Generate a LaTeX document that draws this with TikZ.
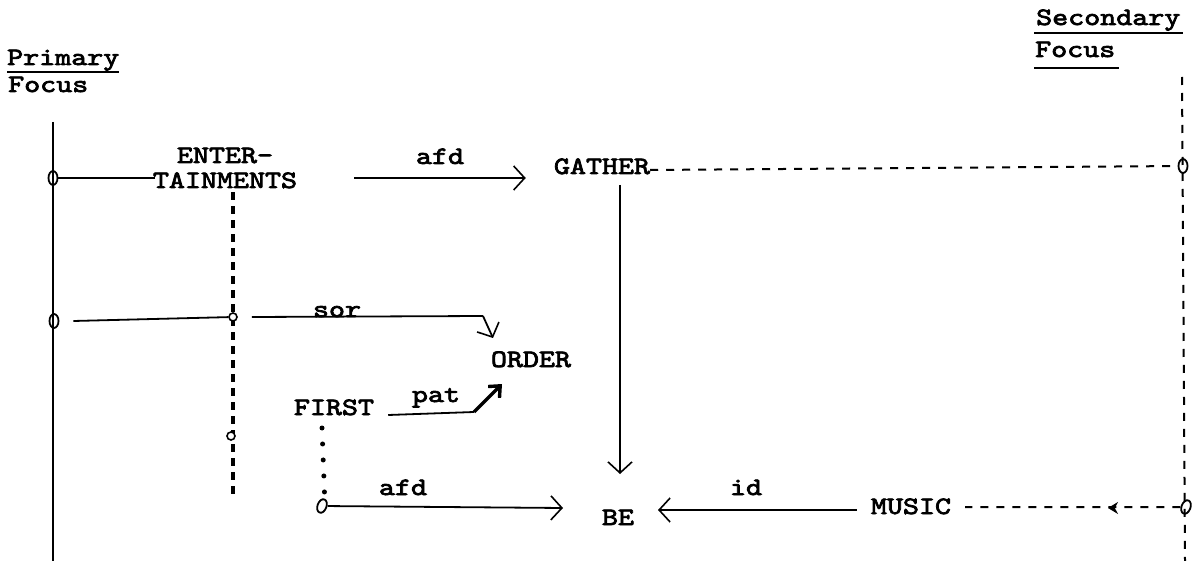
\documentclass[tikz,border=0pt]{standalone}
\usepackage{fontspec}
\newfontfamily\tw{lmmono10-regular.otf}[FakeStretch=1.22,FakeBold=3]
\usetikzlibrary{arrows.meta,shapes.geometric}
\tikzset{
  lbl/.style={font=\tw\fontsize{25}{25}\selectfont, inner sep=0pt},
  ln/.style={line width=1.8pt},
  arr/.style={line width=1.8pt, -{Straight Barb[length=11pt,width=24pt,line width=1.6pt]}},
  dsh/.style={line width=2pt, dash pattern=on 8pt off 8pt},
  thickdash/.style={line width=3.6pt, dash pattern=on 8pt off 6pt},
  dotln/.style={line width=5pt, line cap=round, dash pattern=on 0pt off 16pt},
  fc/.style={draw, line width=1.8pt, ellipse, minimum width=9pt, minimum height=14pt, inner sep=0pt},
  sc/.style={draw, line width=1.6pt, circle, minimum size=8pt, inner sep=0pt, fill=white},
  ul/.style={line width=2.6pt}
}
\begin{document}
\begin{tikzpicture}[x=1pt,y=-1pt]
\useasboundingbox (0,0) rectangle (1197,561);
% headings
\node[lbl,anchor=base west] (prim) at (7,65) {Primary};
\node[lbl,anchor=base west] (pfoc) at (8,92) {Focus};
\draw[ul] ([yshift=-7pt]prim.base west) -- ([yshift=-7pt]prim.base east);
\node[lbl,anchor=base west] (sec) at (1036,25) {Secondary};
\node[lbl,anchor=base west] (sfoc) at (1035,57) {Focus};
\draw[ul] ([yshift=-8pt,xshift=-2pt]sec.base west) -- ([yshift=-8pt,xshift=2pt]sec.base east);
\draw[ul] ([yshift=-11pt,xshift=-1pt]sfoc.base west) -- ([yshift=-11pt,xshift=4pt]sfoc.base east);
% focus lines
\coordinate (ptop) at (53,122);
\coordinate (pbot) at (53,561);
\coordinate (stop) at (1182,77);
\coordinate (sbot) at (1185,561);
\draw[ln] (ptop) -- (pbot);
\draw[dsh] (stop) -- (sbot);
% concept nodes
\node[lbl,align=center,anchor=base] (ent) at (225,188) {ENTER-\\TAINMENTS};
\node[lbl,anchor=base] (gat) at (602,174) {GATHER};
\node[lbl,anchor=base] (ord) at (531,367) {ORDER};
\node[lbl,anchor=base] (fir) at (334,415) {FIRST};
\node[lbl,anchor=base] (be) at (618,525) {BE};
\node[lbl,anchor=base] (mus) at (911,514) {MUSIC};
% focus circles
\node[fc] (p1) at (53,178) {};
\node[fc] (p2) at (54,321) {};
\node[fc] (s1) at (1183,166) {};
\node[fc, rotate=-20] (s2) at (1186,507) {};
\node[fc, rotate=-20] (f1) at (322,506) {};
% dashed vertical under ENTERTAINMENTS
\coordinate (eb) at (233,498);
\draw[thickdash] ([yshift=-4pt]ent.south -| eb) -- (eb);
\node[sc] (e1) at (233,317) {};
\node[sc] (e2) at (231,436) {};
% ENTERTAINMENTS links
\draw[ln] (p1) -- ([xshift=2pt]p1 -| ent.west);
\draw[arr] ([xshift=57pt]ent.east |- p1) -- ([xshift=-28pt]gat.west |- p1)
  node[lbl,midway,above=13pt] (lafd1) {afd};
% GATHER links
\draw[dsh] ([yshift=4pt]gat.base east) -- (s1);
\coordinate (gb) at (620,185);
\coordinate (bt) at (620,474);
\draw[arr] (gb) -- (bt);
% sor
\draw[ln] ([xshift=14pt]p2.east) -- (e1);
\coordinate (sb) at (483,316);
\coordinate (st) at (493,338);
\draw[ln] ([xshift=14pt]e1.east) -- (sb);
\draw[arr] (sb) -- (st);
\node[lbl,anchor=base] (lsor) at (337,317) {sor};
% pat
\coordinate (pb) at (474,412);
\coordinate (pt) at (502,384);
\draw[ln] ([xshift=14pt]fir.base east) -- (pb);
\draw[line width=3.4pt, -{Straight Barb[length=9pt,width=16pt,line width=3.4pt]}] (pb) -- (pt);
\node[lbl,anchor=base] (lpat) at (436,402) {pat};
% FIRST dotted
\draw[dotln] ([yshift=-13pt]fir.base -| f1) -- (f1.north);
% afd to BE
\coordinate (ba) at (563,508);
\draw[arr] (f1) -- (ba);
\node[lbl,anchor=base] (lafd2) at (403,495) {afd};
% id
\coordinate (bi) at (658,510);
\draw[arr] ([xshift=-14pt]mus.west |- bi) -- (bi);
\node[lbl,anchor=base] (lid) at (746,495) {id};
% MUSIC dashed
\coordinate (mm) at (1108,508);
\draw[dsh] (s2) -- ([xshift=14pt]mus.east |- s2);
\draw[line width=2pt, -{Stealth[length=10pt,width=12pt]}] ([xshift=6pt]mm) -- (mm);
\end{tikzpicture}
\end{document}
